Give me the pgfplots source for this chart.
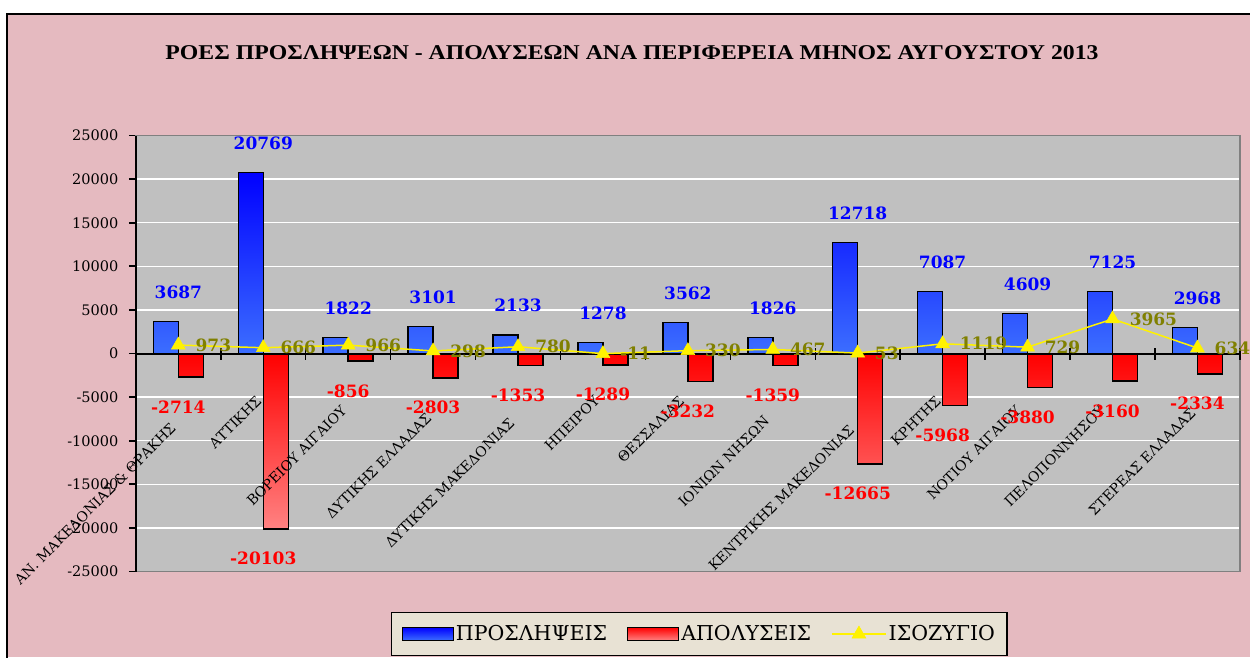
\documentclass[border=0pt]{standalone}
\usepackage{fontspec}
\setmainfont{DejaVu Serif}
\newfontfamily\titlefont{Liberation Serif}
\usepackage{graphicx}
\usepackage{pgfplots}
\pgfplotsset{compat=1.18}
\pgfkeys{/pgf/number format/.cd, 1000 sep={}, assume math mode=true}
\definecolor{bgpink}{RGB}{229,186,192}
\definecolor{plotgray}{RGB}{192,192,192}
\definecolor{framegray}{RGB}{128,128,128}
\definecolor{olivel}{RGB}{128,128,0}
\definecolor{legbg}{RGB}{232,226,212}
\definecolor{bluetop}{RGB}{0,0,255}
\definecolor{bluebot}{RGB}{60,110,255}
\definecolor{redtop}{RGB}{255,0,0}
\definecolor{redbot}{RGB}{255,130,130}
\tikzset{lbl/.style={rotate=45, anchor=north east, inner sep=0pt, font=\fontsize{14}{16}\selectfont}}
\pgfplotsset{
  barlegend/.style={legend image code/.code={\draw[##1, line width=1.2pt] (0pt,-6.5pt) rectangle (51pt,6.5pt);}},
  linelegend/.style={legend image code/.code={\draw[mark repeat=2, mark phase=2, ##1] plot coordinates {(0pt,0pt) (27pt,0pt) (54pt,0pt)};}},
}

\pgfplotstableread{
x hires fires bal
0 3687 -2714 973
1 20769 -20103 666
2 1822 -856 966
3 3101 -2803 298
4 2133 -1353 780
5 1278 -1289 -11
6 3562 -3232 330
7 1826 -1359 467
8 12718 -12665 53
9 7087 -5968 1119
10 4609 -3880 729
11 7125 -3160 3965
12 2968 -2334 634
}\datatable

\begin{document}
\begin{tikzpicture}[x=1pt,y=1pt]
\fill[white] (0,0) rectangle (1250,657);
\fill[bgpink] (7,0) rectangle (1250,643);
\draw[black, line width=2.5pt] (7,-5) -- (7,643) -- (1255,643);
\node[inner sep=0pt] at (632,604) {\resizebox{933pt}{14pt}{\titlefont\bfseries ΡΟΕΣ ΠΡΟΣΛΗΨΕΩΝ - ΑΠΟΛΥΣΕΩΝ ΑΝΑ ΠΕΡΙΦΕΡΕΙΑ ΜΗΝΟΣ ΑΥΓΟΥΣΤΟΥ 2013}};
\begin{axis}[
  at={(160,98)}, anchor=south west, scale only axis,
  width=1104pt, height=436pt,
  xmin=-0.5, xmax=12.5, ymin=-25000, ymax=25000,
  ytick={-25000,-20000,...,25000},
  scaled y ticks=false,
  xtick=\empty,
  ymajorgrids, grid style={white, line width=1.5pt},
  axis background/.style={fill=plotgray},
  axis line style={framegray, line width=1.5pt},
  tick pos=left, tick align=outside, major tick length=7pt,
  ytick style={black, line width=1.8pt},
  yticklabel style={font=\fontsize{14.5}{16}\selectfont, xshift=-7pt},
  clip=false,
  legend columns=3,
  legend style={at={(0.5104,-0.1433)}, anchor=center, fill=legbg, draw=black,
    line width=1.2pt, font=\fontsize{20.5}{22}\selectfont, inner xsep=10pt, inner ysep=11pt,
    /tikz/every even column/.append style={column sep=18pt}},
  legend cell align=left,
]
\addplot[ybar, bar width=25pt, bar shift=-12.5pt, draw=black, line width=1.5pt,
  top color=bluetop, bottom color=bluebot,
  nodes near coords,
  every node near coord/.append style={anchor=base, yshift=23pt, inner sep=0pt, blue, font=\fontsize{17}{20}\selectfont\bfseries},
  barlegend]
  table[x=x, y=hires] {\datatable};
\addlegendentry{ΠΡΟΣΛΗΨΕΙΣ}
\addplot[ybar, bar width=25pt, bar shift=12.5pt, draw=black, line width=1.5pt,
  top color=redtop, bottom color=redbot,
  nodes near coords,
  every node near coord/.append style={anchor=base, yshift=-36pt, inner sep=0pt, red, font=\fontsize{17}{20}\selectfont\bfseries},
  barlegend]
  table[x=x, y=fires] {\datatable};
\addlegendentry{ΑΠΟΛΥΣΕΙΣ}
\draw[black, line width=2pt] (axis cs:-0.5,0) -- (axis cs:12.5,0);
\pgfplotsinvokeforeach{0.5,1.5,2.5,3.5,4.5,5.5,6.5,7.5,8.5,9.5,10.5,11.5,12.5}{
  \draw[black, line width=1.5pt] ([yshift=-6pt]axis cs:#1,0) -- ([yshift=6pt]axis cs:#1,0);
}
\draw[black, line width=2pt] (rel axis cs:0,0) -- (rel axis cs:0,1);
\addplot[yellow, line width=1.5pt, mark=triangle*, mark size=8pt,
  mark options={fill=yellow, draw=yellow, line width=0.5pt},
  nodes near coords,
  every node near coord/.append style={anchor=west, xshift=17pt, inner sep=0pt, olivel, font=\fontsize{17}{20}\selectfont\bfseries},
  linelegend]
  table[x=x, y=bal] {\datatable};
\addlegendentry{ΙΣΟΖΥΓΙΟ}
\node[lbl] at ([xshift=-9pt,yshift=-68pt]axis cs:0,0) {ΑΝ. ΜΑΚΕΔΟΝΙΑΣ \& ΘΡΑΚΗΣ};
\node[lbl] at ([xshift=-8pt,yshift=-41pt]axis cs:1,0) {ΑΤΤΙΚΗΣ};
\node[lbl] at ([xshift=-8pt,yshift=-51pt]axis cs:2,0) {ΒΟΡΕΙΟΥ ΑΙΓΑΙΟΥ};
\node[lbl] at ([xshift=-8pt,yshift=-58pt]axis cs:3,0) {ΔΥΤΙΚΗΣ ΕΛΛΑΔΑΣ};
\node[lbl] at ([xshift=-10pt,yshift=-63pt]axis cs:4,0) {ΔΥΤΙΚΗΣ ΜΑΚΕΔΟΝΙΑΣ};
\node[lbl] at ([xshift=-10pt,yshift=-41pt]axis cs:5,0) {ΗΠΕΙΡΟΥ};
\node[lbl] at ([xshift=-10pt,yshift=-41pt]axis cs:6,0) {ΘΕΣΣΑΛΙΑΣ};
\node[lbl] at ([xshift=-10pt,yshift=-61pt]axis cs:7,0) {ΙΟΝΙΩΝ ΝΗΣΩΝ};
\node[lbl] at ([xshift=-10pt,yshift=-70pt]axis cs:8,0) {ΚΕΝΤΡΙΚΗΣ ΜΑΚΕΔΟΝΙΑΣ};
\node[lbl] at ([xshift=-8pt,yshift=-41pt]axis cs:9,0) {ΚΡΗΤΗΣ};
\node[lbl] at ([xshift=-13pt,yshift=-51pt]axis cs:10,0) {ΝΟΤΙΟΥ ΑΙΓΑΙΟΥ};
\node[lbl] at ([xshift=-14pt,yshift=-51pt]axis cs:11,0) {ΠΕΛΟΠΟΝΝΗΣΟΥ};
\node[lbl] at ([xshift=-8pt,yshift=-53pt]axis cs:12,0) {ΣΤΕΡΕΑΣ ΕΛΛΑΔΑΣ};
\end{axis}
\pgfresetboundingbox
\useasboundingbox (0,0) rectangle (1250,657);
\end{tikzpicture}
\end{document}
